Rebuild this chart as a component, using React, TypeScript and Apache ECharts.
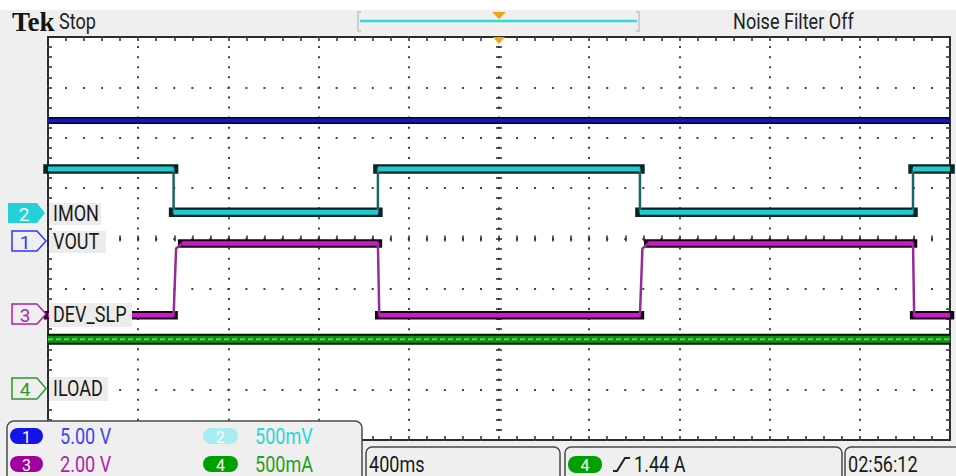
import React, { useEffect, useRef } from "react";
import * as echarts from "echarts";

// ---- Scope settings ----
const timeMinMs = -2000;
const timeMaxMs = 2000;
const timePerDivMs = 400;
const divMin = -4;
const divMax = 4;

// channel scale (units per division) and ground-marker offset (divisions from centre)
const channelNames = ["VOUT", "IMON", "DEV_SLP", "ILOAD"];
const channelScales = [5, 500, 2, 500]; // V, mV, V, mA
const channelOffsetsDiv = [0, 0.5, -1.5, -3];

// ---- Trace data ----
const ch1TimesMs = [-2000, 2000];
const ch1Volts = [11.7, 11.7];

const ch2TimesMs = [-2000, -1443, -1443, -537, -537, 625, 625, 1836, 1836, 2000];
const ch2MilliVolts = [440, 440, 10, 10, 440, 440, 10, 10, 440, 440];

const ch3TimesMs = [-2000, -1443, -1432, -1405, -537, -531, 625, 636, 662, 1836, 1841, 2000];
const ch3Volts = [-0.05, -0.05, 2.6, 2.8, 2.8, -0.05, -0.05, 2.6, 2.8, 2.8, -0.05, -0.05];

const ch4TimesMs = [-2000, 2000];
const ch4MilliAmps = [500, 500];

// ---- Readouts ----
const scaleReadouts = ["5.00 V", "500mV", "2.00 V", "500mA"];
const timebaseReadout = "400ms";
const triggerReadout = "1.44 A";
const clockReadout = "02:56:12";

const FONT = "Roboto, 'Liberation Sans', sans-serif";
const SX = 0.84;

function pts(t: number[], v: number[]) {
  return t.map((x, i) => [x, v[i]]);
}
function flats(t: number[], v: number[]) {
  const out: any[] = [];
  for (let i = 0; i < t.length - 1; i++) {
    if (v[i] === v[i + 1] && t[i + 1] > t[i]) {
      out.push([t[i], v[i]], [t[i + 1], v[i]], [t[i + 1], "-"]);
    }
  }
  return out;
}
function lineSeries(yi: number, data: any[], color: string, width: number, z: number, cap = "butt", type: any = "solid") {
  return {
    type: "line",
    xAxisIndex: 0,
    yAxisIndex: yi,
    data,
    symbol: "none",
    silent: true,
    connectNulls: false,
    clip: true,
    z,
    lineStyle: { color, width, type, cap, join: "miter" },
  };
}

function txt(x: number, y: number, text: string, fill: string, size = 21.5, opts: any = {}) {
  return {
    type: "text",
    x,
    y,
    scaleX: opts.scaleX ?? SX,
    z: 120,
    style: {
      text,
      fill,
      font: `${opts.weight || "normal"} ${size}px ${opts.family || FONT}`,
      align: opts.align || "left",
      verticalAlign: "middle",
      textAlign: opts.align || "left",
      textVerticalAlign: "middle",
    },
  };
}

function markerShape(x0: number, y0: number, h: number, x1: number, tip: number) {
  return [
    [x0, y0],
    [x1, y0],
    [tip, y0 + h / 2],
    [x1, y0 + h],
    [x0, y0 + h],
  ];
}

export default function App() {
  const ref = useRef<HTMLDivElement>(null);
  useEffect(() => {
    if (!ref.current) return;
    const chart = echarts.init(ref.current, undefined, { renderer: "svg" });
    const tickColor = "#2b2b2b";
    const dotColor = "#444";
    const hiddenLine = { show: true, lineStyle: { color: "rgba(0,0,0,0)" } };

    const xBase = { type: "value", min: timeMinMs, max: timeMaxMs, interval: timePerDivMs, axisLabel: { show: false } };
    const yBase = { type: "value", min: divMin, max: divMax, interval: 1, axisLabel: { show: false } };
    const tick = (inside: boolean, len: number) => ({
      axisTick: { show: true, inside, length: len, lineStyle: { color: tickColor, width: 1.5 } },
      minorTick: { show: true, splitNumber: 5, length: len, lineStyle: { color: tickColor, width: 1.5 } },
    });

    const xAxis = [
      {
        ...xBase, position: "bottom", axisLine: { ...hiddenLine, onZero: false }, ...tick(true, 4),
        splitLine: { show: true, lineStyle: { color: dotColor, width: 2, type: [2, 8.075], dashOffset: 1 } },
      },
      { ...xBase, position: "top", axisLine: { ...hiddenLine, onZero: false }, ...tick(true, 4), splitLine: { show: false } },
      { ...xBase, position: "bottom", axisLine: { ...hiddenLine, onZero: true, onZeroAxisIndex: 0 }, ...tick(true, 3), splitLine: { show: false } },
      { ...xBase, position: "bottom", axisLine: { ...hiddenLine, onZero: true, onZeroAxisIndex: 0 }, ...tick(false, 3), splitLine: { show: false } },
    ];
    const yAxis: any[] = [
      {
        ...yBase, position: "left", axisLine: { ...hiddenLine, onZero: false }, ...tick(true, 4),
        splitLine: { show: true, lineStyle: { color: dotColor, width: 2, type: [2, 16.04], dashOffset: 1 } },
      },
      { ...yBase, position: "right", axisLine: { ...hiddenLine, onZero: false }, ...tick(true, 4), splitLine: { show: false } },
      { ...yBase, position: "left", axisLine: { ...hiddenLine, onZero: true, onZeroAxisIndex: 0 }, ...tick(true, 3), splitLine: { show: false } },
      { ...yBase, position: "left", axisLine: { ...hiddenLine, onZero: true, onZeroAxisIndex: 0 }, ...tick(false, 3), splitLine: { show: false } },
    ];
    channelScales.forEach((s, i) => {
      yAxis.push({
        type: "value",
        show: false,
        position: "left",
        min: (divMin - channelOffsetsDiv[i]) * s,
        max: (divMax - channelOffsetsDiv[i]) * s,
      });
    });

    const series: any[] = [
      // CH1 blue
      lineSeries(4, flats(ch1TimesMs, ch1Volts), "#03032e", 7, 10, "butt"),
      lineSeries(4, flats(ch1TimesMs, ch1Volts), "#1818b4", 4, 11),
      // CH2 cyan
      lineSeries(5, flats(ch2TimesMs, ch2MilliVolts), "#082424", 9.5, 12, "square"),
      lineSeries(5, pts(ch2TimesMs, ch2MilliVolts), "#1f6464", 2.5, 13),
      lineSeries(5, flats(ch2TimesMs, ch2MilliVolts), "#22cacc", 5, 14),
      // CH3 magenta
      lineSeries(6, flats(ch3TimesMs, ch3Volts), "#1c001c", 8.5, 15, "square"),
      lineSeries(6, pts(ch3TimesMs, ch3Volts), "#962a96", 2.5, 16),
      lineSeries(6, flats(ch3TimesMs, ch3Volts), "#c41ec4", 4.5, 17),
      // CH4 green
      lineSeries(7, flats(ch4TimesMs, ch4MilliAmps), "#001a00", 11, 18),
      lineSeries(7, flats(ch4TimesMs, ch4MilliAmps), "#158c15", 7, 19),
      lineSeries(7, flats(ch4TimesMs, ch4MilliAmps), "#40e040", 2, 20, "butt", [5, 3]),
    ];

    const panelStroke = "#4a4a4a";
    const bg = "#efefef";
    const graphic: any[] = [
      { type: "rect", z: 100, shape: { x: 0, y: 0, width: 956, height: 10 }, style: { fill: "#ffffff" } },
      txt(12, 22, "Tek", "#151515", 27, { weight: "bold", family: "'Liberation Serif', 'DejaVu Serif', serif", scaleX: 1 }),
      txt(59, 22, "Stop", "#222"),
      txt(733, 22, "Noise Filter Off", "#222"),
      // trigger position bar
      { type: "polyline", z: 100, shape: { points: [[361, 12], [358, 12], [358, 31], [361, 31]] }, style: { stroke: "#c4c4c4", lineWidth: 1.5, fill: null } },
      { type: "polyline", z: 100, shape: { points: [[636, 12], [639, 12], [639, 31], [636, 31]] }, style: { stroke: "#c4c4c4", lineWidth: 1.5, fill: null } },
      { type: "line", z: 100, shape: { x1: 360, y1: 21, x2: 637, y2: 21 }, style: { stroke: "#30dce0", lineWidth: 2.5 } },
      { type: "polygon", z: 101, shape: { points: [[492, 12], [506, 12], [499, 19]] }, style: { fill: "#f0a418" } },
      { type: "polygon", z: 101, shape: { points: [[493, 37], [505, 37], [499, 44]] }, style: { fill: "#f0a418" } },
      // channel label boxes
      { type: "rect", z: 100, shape: { x: 49, y: 203, width: 52, height: 22 }, style: { fill: "#ececec" } },
      { type: "rect", z: 100, shape: { x: 49, y: 231, width: 57, height: 22 }, style: { fill: "#ececec" } },
      { type: "rect", z: 100, shape: { x: 49, y: 303, width: 83, height: 24 }, style: { fill: "#ececec" } },
      { type: "rect", z: 100, shape: { x: 49, y: 377, width: 59, height: 24 }, style: { fill: "#ececec" } },
      txt(53, 214, channelNames[1], "#1a1a1a"),
      txt(53, 242, channelNames[0], "#1a1a1a"),
      txt(53, 315, channelNames[2], "#1a1a1a"),
      txt(53, 389, channelNames[3], "#1a1a1a"),
      // ground markers
      { type: "polygon", z: 100, shape: { points: markerShape(8, 203, 20, 37, 45) }, style: { fill: "#22d2d8" } },
      txt(24, 214, "2", "#ffffff", 19, { align: "center", scaleX: 1 }),
      { type: "polygon", z: 100, shape: { points: markerShape(12, 231, 20, 37, 46) }, style: { fill: bg, stroke: "#3535ff", lineWidth: 1.5 } },
      txt(25, 242, "1", "#3535ff", 19, { align: "center", scaleX: 1 }),
      { type: "polygon", z: 100, shape: { points: markerShape(12, 304, 20, 37, 46) }, style: { fill: bg, stroke: "#b21eb2", lineWidth: 1.5 } },
      txt(25, 315, "3", "#b21eb2", 19, { align: "center", scaleX: 1 }),
      { type: "polygon", z: 100, shape: { points: markerShape(12, 378, 21, 37, 46) }, style: { fill: bg, stroke: "#2a9a2a", lineWidth: 1.5 } },
      txt(25, 389, "4", "#2a9a2a", 19, { align: "center", scaleX: 1 }),
      // bottom channel panel
      { type: "rect", z: 110, shape: { x: 7, y: 421, width: 355, height: 70, r: 7 }, style: { fill: bg, stroke: panelStroke, lineWidth: 1.5 } },
      { type: "rect", z: 111, shape: { x: 10, y: 428, width: 33, height: 16, r: 8 }, style: { fill: "#1414e8" } },
      txt(26.5, 437, "1", "#ffffff", 16, { align: "center", scaleX: 1 }),
      txt(60, 437, scaleReadouts[0], "#4343ee"),
      { type: "rect", z: 111, shape: { x: 203, y: 428, width: 35, height: 16, r: 8 }, style: { fill: "#a8eef0" } },
      txt(220.5, 437, "2", "#ffffff", 16, { align: "center", scaleX: 1 }),
      txt(255, 437, scaleReadouts[1], "#26d6d8"),
      { type: "rect", z: 111, shape: { x: 10, y: 456, width: 33, height: 16, r: 8 }, style: { fill: "#a000a0" } },
      txt(26.5, 465, "3", "#ffffff", 16, { align: "center", scaleX: 1 }),
      txt(60, 465, scaleReadouts[2], "#ac24ac"),
      { type: "rect", z: 111, shape: { x: 203, y: 456, width: 35, height: 16, r: 8 }, style: { fill: "#00a000" } },
      txt(220.5, 465, "4", "#ffffff", 16, { align: "center", scaleX: 1 }),
      txt(255, 465, scaleReadouts[3], "#22a022"),
      // timebase / trigger / clock boxes
      { type: "rect", z: 110, shape: { x: 366, y: 447, width: 194, height: 40, r: 6 }, style: { fill: bg, stroke: panelStroke, lineWidth: 1.5 } },
      txt(369, 465, timebaseReadout, "#1a1a1a"),
      { type: "rect", z: 110, shape: { x: 565, y: 447, width: 277, height: 40, r: 6 }, style: { fill: bg, stroke: panelStroke, lineWidth: 1.5 } },
      { type: "rect", z: 111, shape: { x: 568, y: 456, width: 34, height: 17, r: 8 }, style: { fill: "#00a000" } },
      txt(585, 465, "4", "#ffffff", 16, { align: "center", scaleX: 1 }),
      { type: "polyline", z: 111, shape: { points: [[613, 471], [617, 471], [625, 458], [630, 458]] }, style: { stroke: "#222", lineWidth: 2, fill: null } },
      txt(634, 465, triggerReadout, "#1a1a1a"),
      { type: "rect", z: 110, shape: { x: 845, y: 447, width: 130, height: 40, r: 6 }, style: { fill: bg, stroke: panelStroke, lineWidth: 1.5 } },
      txt(848, 465, clockReadout, "#1a1a1a"),
    ];

    chart.setOption({
      animation: false,
      backgroundColor: bg,
      grid: { left: 48, right: 6, top: 37, bottom: 36, show: true, backgroundColor: "#ffffff", borderColor: "#2b2b2b", borderWidth: 2 },
      xAxis,
      yAxis,
      series,
      graphic,
    });
    return () => chart.dispose();
  }, []);
  return <div ref={ref} style={{ position: "absolute", left: 0, top: 0, width: 956, height: 476 }} />;
}
